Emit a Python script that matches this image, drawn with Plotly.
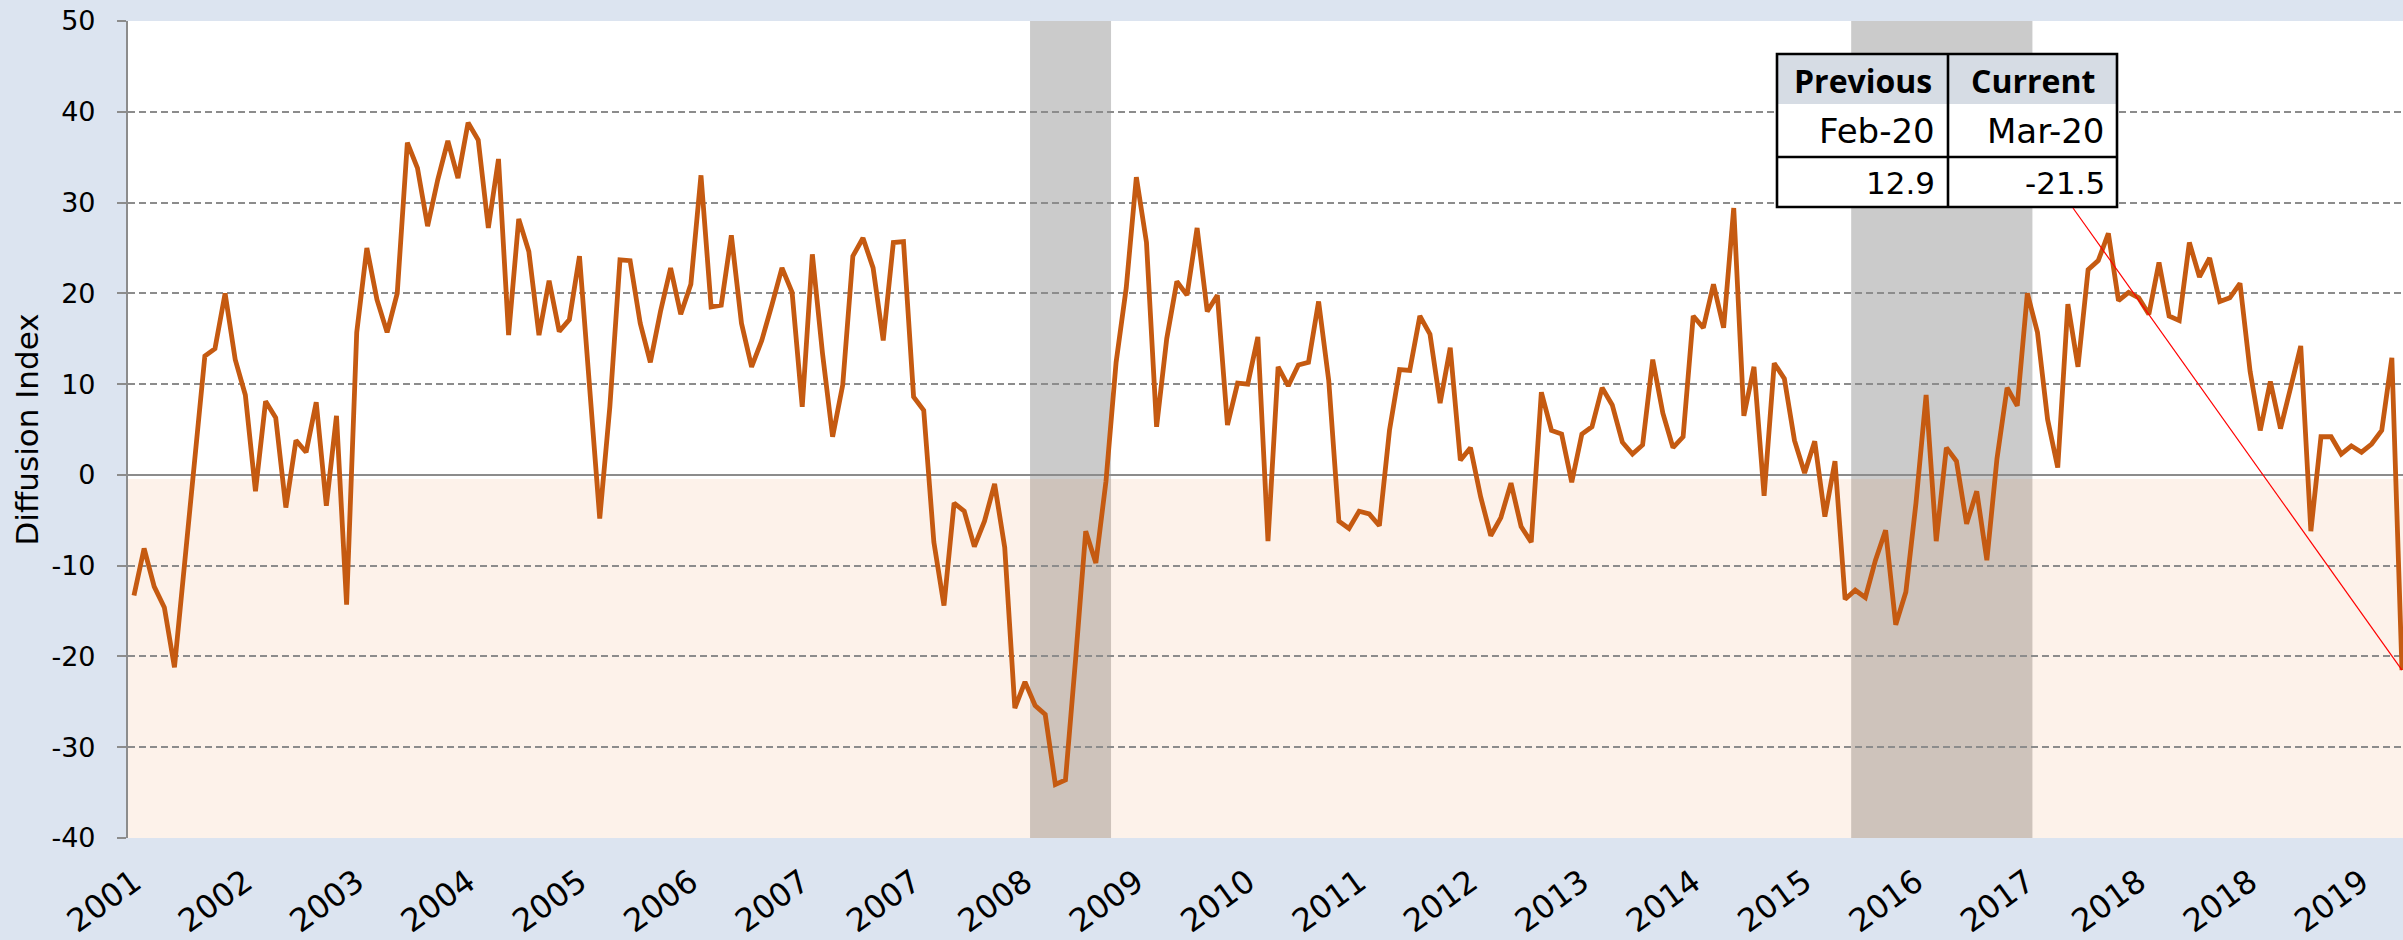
import plotly.graph_objects as go

# ---------------- data ----------------
start_month = "2001-07"          # first observation (monthly series)
diffusion_index = [
    -13.3, -8.1, -12.3, -14.6, -21.2, -9.5, 1.5, 13.1, 13.9, 20.0,
    12.7, 8.8, -1.8, 8.1, 6.3, -3.6, 3.8, 2.5, 8.0, -3.4,
    6.5, -14.3, 15.7, 25.0, 19.3, 15.7, 20.0, 36.6, 33.8, 27.4,
    32.5, 36.8, 32.7, 38.8, 36.9, 27.2, 34.8, 15.4, 28.2, 24.6,
    15.4, 21.4, 15.8, 17.1, 24.1, 9.0, -4.8, 7.5, 23.7, 23.6,
    16.7, 12.4, 18.0, 22.8, 17.7, 21.0, 33.0, 18.5, 18.7, 26.4,
    16.7, 11.9, 14.8, 18.7, 22.8, 20.1, 7.5, 24.3, 13.4, 4.2,
    9.9, 24.1, 26.1, 22.8, 14.8, 25.6, 25.7, 8.6, 7.1, -7.4,
    -14.4, -3.1, -4.0, -7.9, -5.1, -1.0, -8.0, -25.7, -22.8, -25.4,
    -26.4, -34.1, -33.6, -20.3, -6.2, -9.7, -0.7, 12.4, 20.6, 32.8,
    25.6, 5.3, 15.0, 21.3, 19.8, 27.2, 18.0, 19.8, 5.5, 10.1,
    10.0, 15.2, -7.3, 11.9, 9.8, 12.1, 12.4, 19.1, 10.4, -5.1,
    -5.9, -4.0, -4.3, -5.6, 4.9, 11.6, 11.5, 17.5, 15.5, 7.9,
    14.0, 1.6, 3.0, -2.4, -6.7, -4.7, -0.9, -5.7, -7.4, 9.1,
    4.9, 4.5, -0.8, 4.5, 5.3, 9.6, 7.7, 3.6, 2.3, 3.3,
    12.7, 6.8, 3.0, 4.2, 17.5, 16.2, 21.0, 16.2, 29.4, 6.5,
    11.9, -2.3, 12.3, 10.6, 3.8, 0.2, 3.7, -4.6, 1.5, -13.7,
    -12.7, -13.5, -9.4, -6.1, -16.5, -12.9, -3.1, 8.8, -7.3, 3.0,
    1.5, -5.4, -1.8, -9.4, 1.8, 9.6, 7.6, 20.0, 15.7, 6.1,
    0.8, 18.8, 11.9, 22.6, 23.6, 26.6, 19.2, 20.1, 19.5, 17.7,
    23.4, 17.5, 17.0, 25.6, 21.8, 23.9, 19.1, 19.5, 21.1, 11.4,
    4.9, 10.3, 5.1, 9.6, 14.2, -6.2, 4.2, 4.2, 2.3, 3.2,
    2.5, 3.4, 4.9, 12.9, -21.5,
]
# category-axis labels, one every 11 observations
year_labels = ["2001", "2002", "2003", "2004", "2005", "2006", "2007", "2007",
               "2008", "2009", "2010", "2011", "2012", "2013", "2014", "2015",
               "2016", "2017", "2018", "2018", "2019"]
label_step = 11
# shaded periods, in observation index units
shaded_periods = [(88.5, 96.5), (169.6, 187.5)]
y_ticks = [50, 40, 30, 20, 10, 0, -10, -20, -30, -40]
table_header = ["Previous", "Current"]
table_months = ["Feb-20", "Mar-20"]

# ---------------- figure ----------------
W, H = 2403, 940
ML, MR, MT, MB = 128, 0, 21, 102
n = len(diffusion_index)
idx = list(range(n))

LINE = "#C55A11"
GRID = "#8C8C8C"
BG = "#DCE4F0"
FONT = "DejaVu Sans"

fig = go.Figure()
fig.add_trace(go.Scatter(x=idx, y=diffusion_index, mode="lines",
                         line=dict(color=LINE, width=4.8), hoverinfo="skip",
                         showlegend=False))

shapes = []
for x0, x1 in shaded_periods:
    shapes.append(dict(type="rect", xref="x", yref="paper", x0=x0, x1=x1, y0=0, y1=1,
                       fillcolor="#CBCBCB", line=dict(width=0), layer="below"))
# negative territory tint
shapes.append(dict(type="rect", xref="paper", yref="y", x0=0, x1=1, y0=-0.45, y1=-40,
                   fillcolor="rgba(237,125,49,0.10)", line=dict(width=0), layer="below"))

# ---- summary table (paper coordinates from pixel positions) ----
PW = W - ML - MR
PH = H - MT - MB
def px(x):
    return (x - ML) / PW
def py(y):
    return (H - MB - y) / PH

tl, tm, tr = 1777, 1948, 2117
tt, th, tmid, tb = 54, 104, 157, 207
shapes.append(dict(type="rect", xref="paper", yref="paper", x0=px(tl), x1=px(tr),
                   y0=py(tb), y1=py(tt), fillcolor="white", line=dict(width=0), layer="above"))
shapes.append(dict(type="rect", xref="paper", yref="paper", x0=px(tl), x1=px(tr),
                   y0=py(th), y1=py(tt), fillcolor="#D6DCE4", line=dict(width=0), layer="above"))
shapes.append(dict(type="rect", xref="paper", yref="paper", x0=px(tl), x1=px(tr),
                   y0=py(tb), y1=py(tt), fillcolor="rgba(0,0,0,0)",
                   line=dict(color="black", width=2.6), layer="above"))
shapes.append(dict(type="line", xref="paper", yref="paper", x0=px(tm), x1=px(tm),
                   y0=py(tb), y1=py(tt), line=dict(color="black", width=2.6), layer="above"))
shapes.append(dict(type="line", xref="paper", yref="paper", x0=px(tl), x1=px(tr),
                   y0=py(tmid), y1=py(tmid), line=dict(color="black", width=2.6), layer="above"))

# connector from table to latest observation
x_per_px = (224.1 + 0.59) / PW
y_per_px = 90 / PH
shapes.append(dict(type="line", xref="x", yref="y",
                   x0=-0.59 + (2073 - ML) * x_per_px, y0=50 - (208 - MT) * y_per_px,
                   x1=n - 1, y1=diffusion_index[-1],
                   line=dict(color="#FF0000", width=1.2), layer="above"))

annotations = []
for txt, cx in zip(table_header, [(tl + tm) / 2, (tm + tr) / 2]):
    annotations.append(dict(text=f"<b>{txt}</b>", xref="paper", yref="paper",
                            x=px(cx), y=py(80), xanchor="center", yanchor="middle",
                            showarrow=False, font=dict(family="Open Sans", size=32, color="black")))
vals = [f"{diffusion_index[-2]:.1f}", f"{diffusion_index[-1]:.1f}"]
for mon, val, rx in zip(table_months, vals, [1937, 2107]):
    annotations.append(dict(text=mon, xref="paper", yref="paper", x=px(rx), y=py(131),
                            xanchor="right", yanchor="middle", showarrow=False,
                            font=dict(family=FONT, size=34, color="black")))
    annotations.append(dict(text=val, xref="paper", yref="paper", x=px(rx), y=py(183),
                            xanchor="right", yanchor="middle", showarrow=False,
                            font=dict(family=FONT, size=31, color="black")))
# y-axis title
annotations.append(dict(text="Diffusion Index", xref="paper", yref="paper",
                        x=px(26), y=0.5, xanchor="center", yanchor="middle", textangle=-90,
                        showarrow=False, font=dict(family=FONT, size=31, color="black")))

fig.update_layout(
    width=W, height=H,
    margin=dict(l=ML, r=MR, t=MT, b=MB, autoexpand=False),
    paper_bgcolor=BG, plot_bgcolor="white",
    shapes=shapes, annotations=annotations,
    showlegend=False,
    xaxis=dict(range=[-0.59, 224.1], tickmode="array",
               tickvals=list(range(0, n, label_step))[:len(year_labels)],
               ticktext=year_labels, tickangle=-36, showgrid=False, zeroline=False,
               showline=False, ticks="", ticklabelstandoff=18,
               tickfont=dict(family=FONT, size=32, color="black")),
    yaxis=dict(range=[-40, 50], tickmode="array", tickvals=y_ticks,
               ticktext=[str(v) for v in y_ticks],
               showgrid=True, gridcolor=GRID, gridwidth=1.5, griddash="7px,4px",
               zeroline=True, zerolinecolor=GRID, zerolinewidth=1.8,
               showline=True, linecolor=GRID, linewidth=2.2,
               ticks="outside", ticklen=9, tickwidth=2, tickcolor=GRID,
               ticklabelstandoff=16,
               tickfont=dict(family=FONT, size=27, color="black")),
)

fig.write_html("out.html", config={"displayModeBar": False},
               post_script="document.body.style.margin='0';document.body.style.overflow='hidden';")
